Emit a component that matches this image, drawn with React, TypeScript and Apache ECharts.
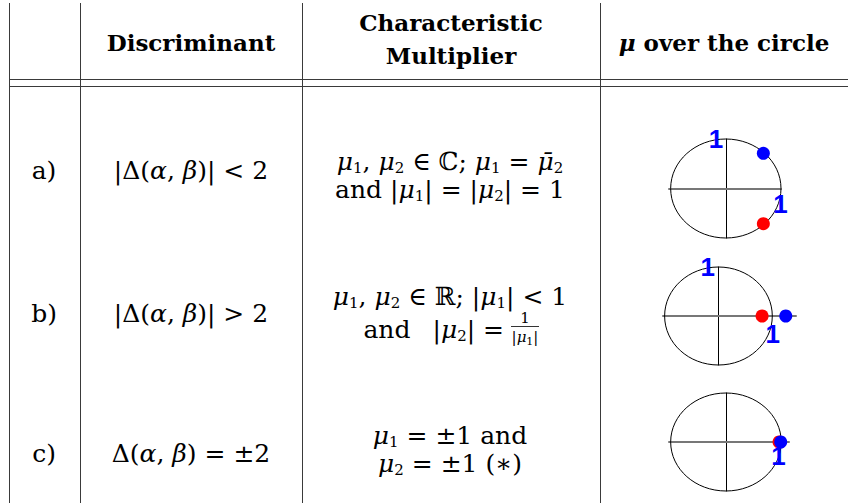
import React, { useEffect, useRef } from 'react';
import * as echarts from 'echarts';

// ---- table content ----
const headerTexts = ['{b|Discriminant}', '{b|Characteristic}', '{b|Multiplier}', '{bi|μ}{b| over the circle}'];
const rowLabels = ['a)', 'b)', 'c)'];
const discriminants = [
  '{r||Δ(}{i|α}{r|, }{i|β}{r|)| < 2}',
  '{r||Δ(}{i|α}{r|, }{i|β}{r|)| > 2}',
  '{r|Δ(}{i|α}{r|, }{i|β}{r|) = ±2}',
];
const multiplierLine1 = [
  '{i|μ}{s|1}{r|, }{i|μ}{s|2}{r| ∈ ℂ; }{i|μ}{s|1}{r| = }{i|μ̄}{s|2}',
  '{i|μ}{s|1}{r|, }{i|μ}{s|2}{r| ∈ ℝ; |}{i|μ}{s|1}{r|| < 1}',
  '{i|μ}{s|1}{r| = ±1 and}',
];
const multiplierLine2 = [
  '{r|and |}{i|μ}{s|1}{r|| = |}{i|μ}{s|2}{r|| = 1}',
  '{r|and}{g| }{r||}{i|μ}{s|2}{r|| =}',
  '{i|μ}{s|2}{r| = ±1 (∗)}',
];
const fractionNumerator = '{f|1}';
const fractionDenominator = '{f||}{fi|μ}{fs|1}{f||}';

// ---- unit-circle diagrams (values in the complex plane) ----
const circleUnit = [[0, 0, 1]];
const xRanges = [[-1.03, 1.0], [-1.03, 1.44], [-1.03, 1.14]];
const yRange = [-1, 1];
const redPoints = [[0.68, -0.71], [0.81, 0], [0.96, 0]];
const bluePoints = [[0.68, 0.71], [1.25, 0], [0.99, 0]];
const oneLabelPoints = [
  [[-0.18, 1.0], [0.99, -0.32]],
  [[-0.2, 0.99], [1.01, -0.36]],
  [[-0.19, 1.01], [0.95, -0.29]],
];

const SERIF = '"DejaVu Serif", serif';
const FS = 25;

const rich = {
  r: { fontFamily: SERIF, fontSize: FS, lineHeight: 24, color: '#000' },
  i: { fontFamily: SERIF, fontSize: FS, fontStyle: 'italic', lineHeight: 24, color: '#000' },
  s: { fontFamily: SERIF, fontSize: 15, lineHeight: 10, padding: [13, 0, 0, 0], color: '#000' },
  g: { fontFamily: SERIF, fontSize: FS, lineHeight: 24, width: 22 },
  b: { fontFamily: SERIF, fontSize: 23, fontWeight: 'bold', lineHeight: 30, color: '#000' },
  bi: { fontFamily: SERIF, fontSize: 23, fontWeight: 'bold', fontStyle: 'italic', lineHeight: 30, color: '#000' },
  f: { fontFamily: SERIF, fontSize: 15, lineHeight: 16, color: '#000' },
  fi: { fontFamily: SERIF, fontSize: 15, fontStyle: 'italic', lineHeight: 16, color: '#000' },
  fs: { fontFamily: SERIF, fontSize: 11, lineHeight: 8, padding: [8, 0, 0, 0], color: '#000' },
};

const colX = [44, 191, 450, 724];
const rowY = [170, 313, 453];
const line1Y = [161, 296, 435];
const line2Y = [189.5, 329, 463];
const gridBoxes = [
  { left: 669, top: 139, width: 112, height: 99 },
  { left: 663, top: 267, width: 133, height: 98 },
  { left: 669, top: 393, width: 120, height: 98 },
];

function txt(x: number, y: number, text: string, align = 'center') {
  return {
    type: 'text',
    x,
    y,
    style: { text, rich, align, verticalAlign: 'middle', fill: '#000' },
  };
}

function ln(x1: number, y1: number, x2: number, y2: number, w = 1, c = '#3a3a3a') {
  return { type: 'line', shape: { x1, y1, x2, y2 }, style: { stroke: c, lineWidth: w } };
}

export default function App() {
  const ref = useRef<HTMLDivElement>(null);
  useEffect(() => {
    if (!ref.current) return;
    const chart = echarts.init(ref.current, null, { renderer: 'svg' });

    const graphics: any[] = [];
    // table rules
    [9.5, 80.5, 302.5, 600.5].forEach((x) => graphics.push(ln(x, 3, x, 503)));
    graphics.push(ln(9, 79.5, 848, 79.5));
    graphics.push(ln(9, 86.5, 848, 86.5));
    // header
    graphics.push(txt(colX[1], 42, headerTexts[0]));
    graphics.push(txt(451, 22, headerTexts[1]));
    graphics.push(txt(451, 55, headerTexts[2]));
    graphics.push(txt(colX[3], 42, headerTexts[3]));
    // rows
    rowLabels.forEach((l, k) => {
      graphics.push(txt(colX[0], rowY[k], '{r|' + l + '}'));
      graphics.push(txt(colX[1], rowY[k], discriminants[k]));
      graphics.push(txt(colX[2], line1Y[k], multiplierLine1[k]));
      if (k === 1) {
        graphics.push(txt(504, line2Y[k], multiplierLine2[k], 'right'));
        graphics.push(txt(525, line2Y[k] - 11, fractionNumerator));
        graphics.push(ln(511, line2Y[k] - 2.5, 539, line2Y[k] - 2.5, 0.8, '#000'));
        graphics.push(txt(525, line2Y[k] + 8, fractionDenominator));
      } else {
        graphics.push(txt(colX[2], line2Y[k], multiplierLine2[k]));
      }
    });

    const grids = gridBoxes.map((g) => ({ ...g, containLabel: false }));
    const xAxes = xRanges.map((r, k) => ({
      type: 'value',
      gridIndex: k,
      min: r[0],
      max: r[1],
      axisLine: { show: true, onZero: true, lineStyle: { color: '#777', width: 2 } },
      axisTick: { show: false },
      axisLabel: { show: false },
      splitLine: { show: false },
    }));
    const yAxes = xRanges.map((_, k) => ({
      type: 'value',
      gridIndex: k,
      min: yRange[0],
      max: yRange[1],
      axisLine: { show: true, onZero: true, lineStyle: { color: '#000', width: 1 } },
      axisTick: { show: false },
      axisLabel: { show: false },
      splitLine: { show: false },
    }));

    const series: any[] = [];
    xRanges.forEach((_, k) => {
      series.push({
        type: 'custom',
        xAxisIndex: k,
        yAxisIndex: k,
        clip: false,
        silent: true,
        z: 3,
        data: circleUnit,
        renderItem: (_p: any, api: any) => {
          const c = api.coord([api.value(0), api.value(1)]);
          const s = api.size([api.value(2), api.value(2)]);
          return {
            type: 'ellipse',
            shape: { cx: c[0], cy: c[1], rx: s[0], ry: s[1] },
            style: { fill: 'none', stroke: '#000', lineWidth: 1 },
          };
        },
      });
      series.push({
        type: 'scatter',
        xAxisIndex: k,
        yAxisIndex: k,
        z: 4,
        symbolSize: 13,
        itemStyle: { color: '#ff0000', opacity: 1 },
        data: [redPoints[k]],
      });
      series.push({
        type: 'scatter',
        xAxisIndex: k,
        yAxisIndex: k,
        z: 5,
        symbolSize: 13,
        itemStyle: { color: '#0000ff', opacity: 1 },
        data: [bluePoints[k]],
      });
      series.push({
        type: 'scatter',
        xAxisIndex: k,
        yAxisIndex: k,
        z: 6,
        symbolSize: 1,
        itemStyle: { opacity: 0 },
        data: oneLabelPoints[k],
        label: {
          show: true,
          position: 'inside',
          formatter: '1',
          fontFamily: '"Liberation Sans", Arial, sans-serif',
          fontSize: 26,
          fontWeight: 'bold',
          color: '#0000ff',
          opacity: 1,
        },
      });
    });

    chart.setOption({
      animation: false,
      backgroundColor: '#fff',
      grid: grids,
      xAxis: xAxes,
      yAxis: yAxes,
      series,
      graphic: { elements: graphics },
    });
    return () => chart.dispose();
  }, []);
  return (
    <div
      ref={ref}
      style={{ position: 'fixed', left: 0, top: 0, width: 848, height: 503, background: '#fff' }}
    />
  );
}
